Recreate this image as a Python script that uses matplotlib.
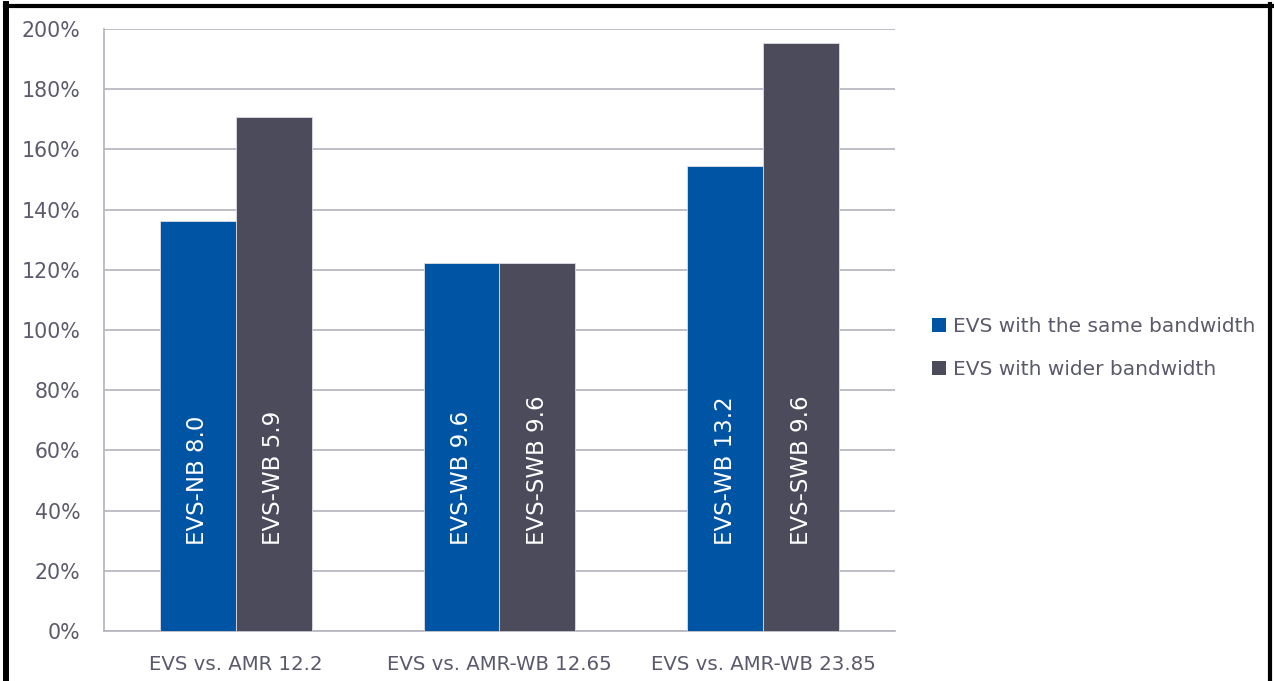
import matplotlib
matplotlib.use("Agg")
from matplotlib import pyplot as plt
from matplotlib.lines import Line2D
import numpy as np

categories = ["EVS vs. AMR 12.2", "EVS vs. AMR-WB 12.65", "EVS vs. AMR-WB 23.85"]
same_bw = [136.3, 122.3, 154.6]
wider_bw = [170.8, 122.3, 195.3]
same_labels = ["EVS-NB 8.0", "EVS-WB 9.6", "EVS-WB 13.2"]
wider_labels = ["EVS-WB 5.9", "EVS-SWB 9.6", "EVS-SWB 9.6"]
series_names = ["EVS with the same bandwidth", "EVS with wider bandwidth"]

blue = "#0054A4"
dark = "#4B4B5C"
grid_c = "#B4B2BC"
text_c = "#5A5A6C"

plt.rcParams['font.family'] = ['DejaVu Sans']

fig = plt.figure(figsize=(12.74, 6.81), dpi=100)
ax = fig.add_axes([104 / 1274, 50 / 681, 791 / 1274, 602 / 681])

x = np.arange(len(categories))
w = 0.288
ax.bar(x - w / 2, same_bw, w, color=blue, edgecolor="#DDDDE4", linewidth=0.6, zorder=3)
ax.bar(x + w / 2, wider_bw, w, color=dark, edgecolor="#DDDDE4", linewidth=0.6, zorder=3)

for i in range(len(categories)):
    ax.text(x[i] - w / 2, 28.5, same_labels[i], rotation=90, ha="center", va="bottom",
            color="white", fontsize=16.5, zorder=4)
    ax.text(x[i] + w / 2, 28.5, wider_labels[i], rotation=90, ha="center", va="bottom",
            color="white", fontsize=16.5, zorder=4)

ax.set_xlim(-0.5, 2.5)
ax.set_ylim(0, 200)
ax.set_yticks(range(0, 201, 20))
ax.set_yticklabels([f"{v}%" for v in range(0, 201, 20)])
ax.set_xticks(x)
ax.set_xticklabels(categories)
ax.yaxis.grid(True, color=grid_c, linewidth=1.2, zorder=0)
ax.tick_params(axis="y", length=0, colors=text_c, labelsize=14.8, pad=17)
ax.tick_params(axis="x", length=0, colors=text_c, labelsize=14.2, pad=17)
for s in ["top", "right"]:
    ax.spines[s].set_visible(False)
for s in ["left", "bottom"]:
    ax.spines[s].set_color(grid_c)
    ax.spines[s].set_linewidth(1.2)

handles = [Line2D([], [], marker="s", linestyle="", markersize=9.5, markeredgewidth=0, color=blue),
           Line2D([], [], marker="s", linestyle="", markersize=9.5, markeredgewidth=0, color=dark)]
fig.legend(handles, series_names, loc="center left", bbox_to_anchor=(901 / 1274, 333 / 681),
           frameon=False, fontsize=14.5, handletextpad=-0.3, labelspacing=1.2,
           labelcolor=text_c)

# black frame around the picture
fig.add_artist(Line2D([6.5 / 1274, 6.5 / 1274], [0, 1 - 3.5 / 681], color="black", linewidth=4.3))
fig.add_artist(Line2D([4.5 / 1274, 1272 / 1274], [1 - 5.5 / 681, 1 - 5.5 / 681], color="black", linewidth=3))
fig.add_artist(Line2D([1270 / 1274, 1270 / 1274], [0, 1 - 4 / 681], color="black", linewidth=3))

fig.savefig("out.png", dpi=100, facecolor="white")
